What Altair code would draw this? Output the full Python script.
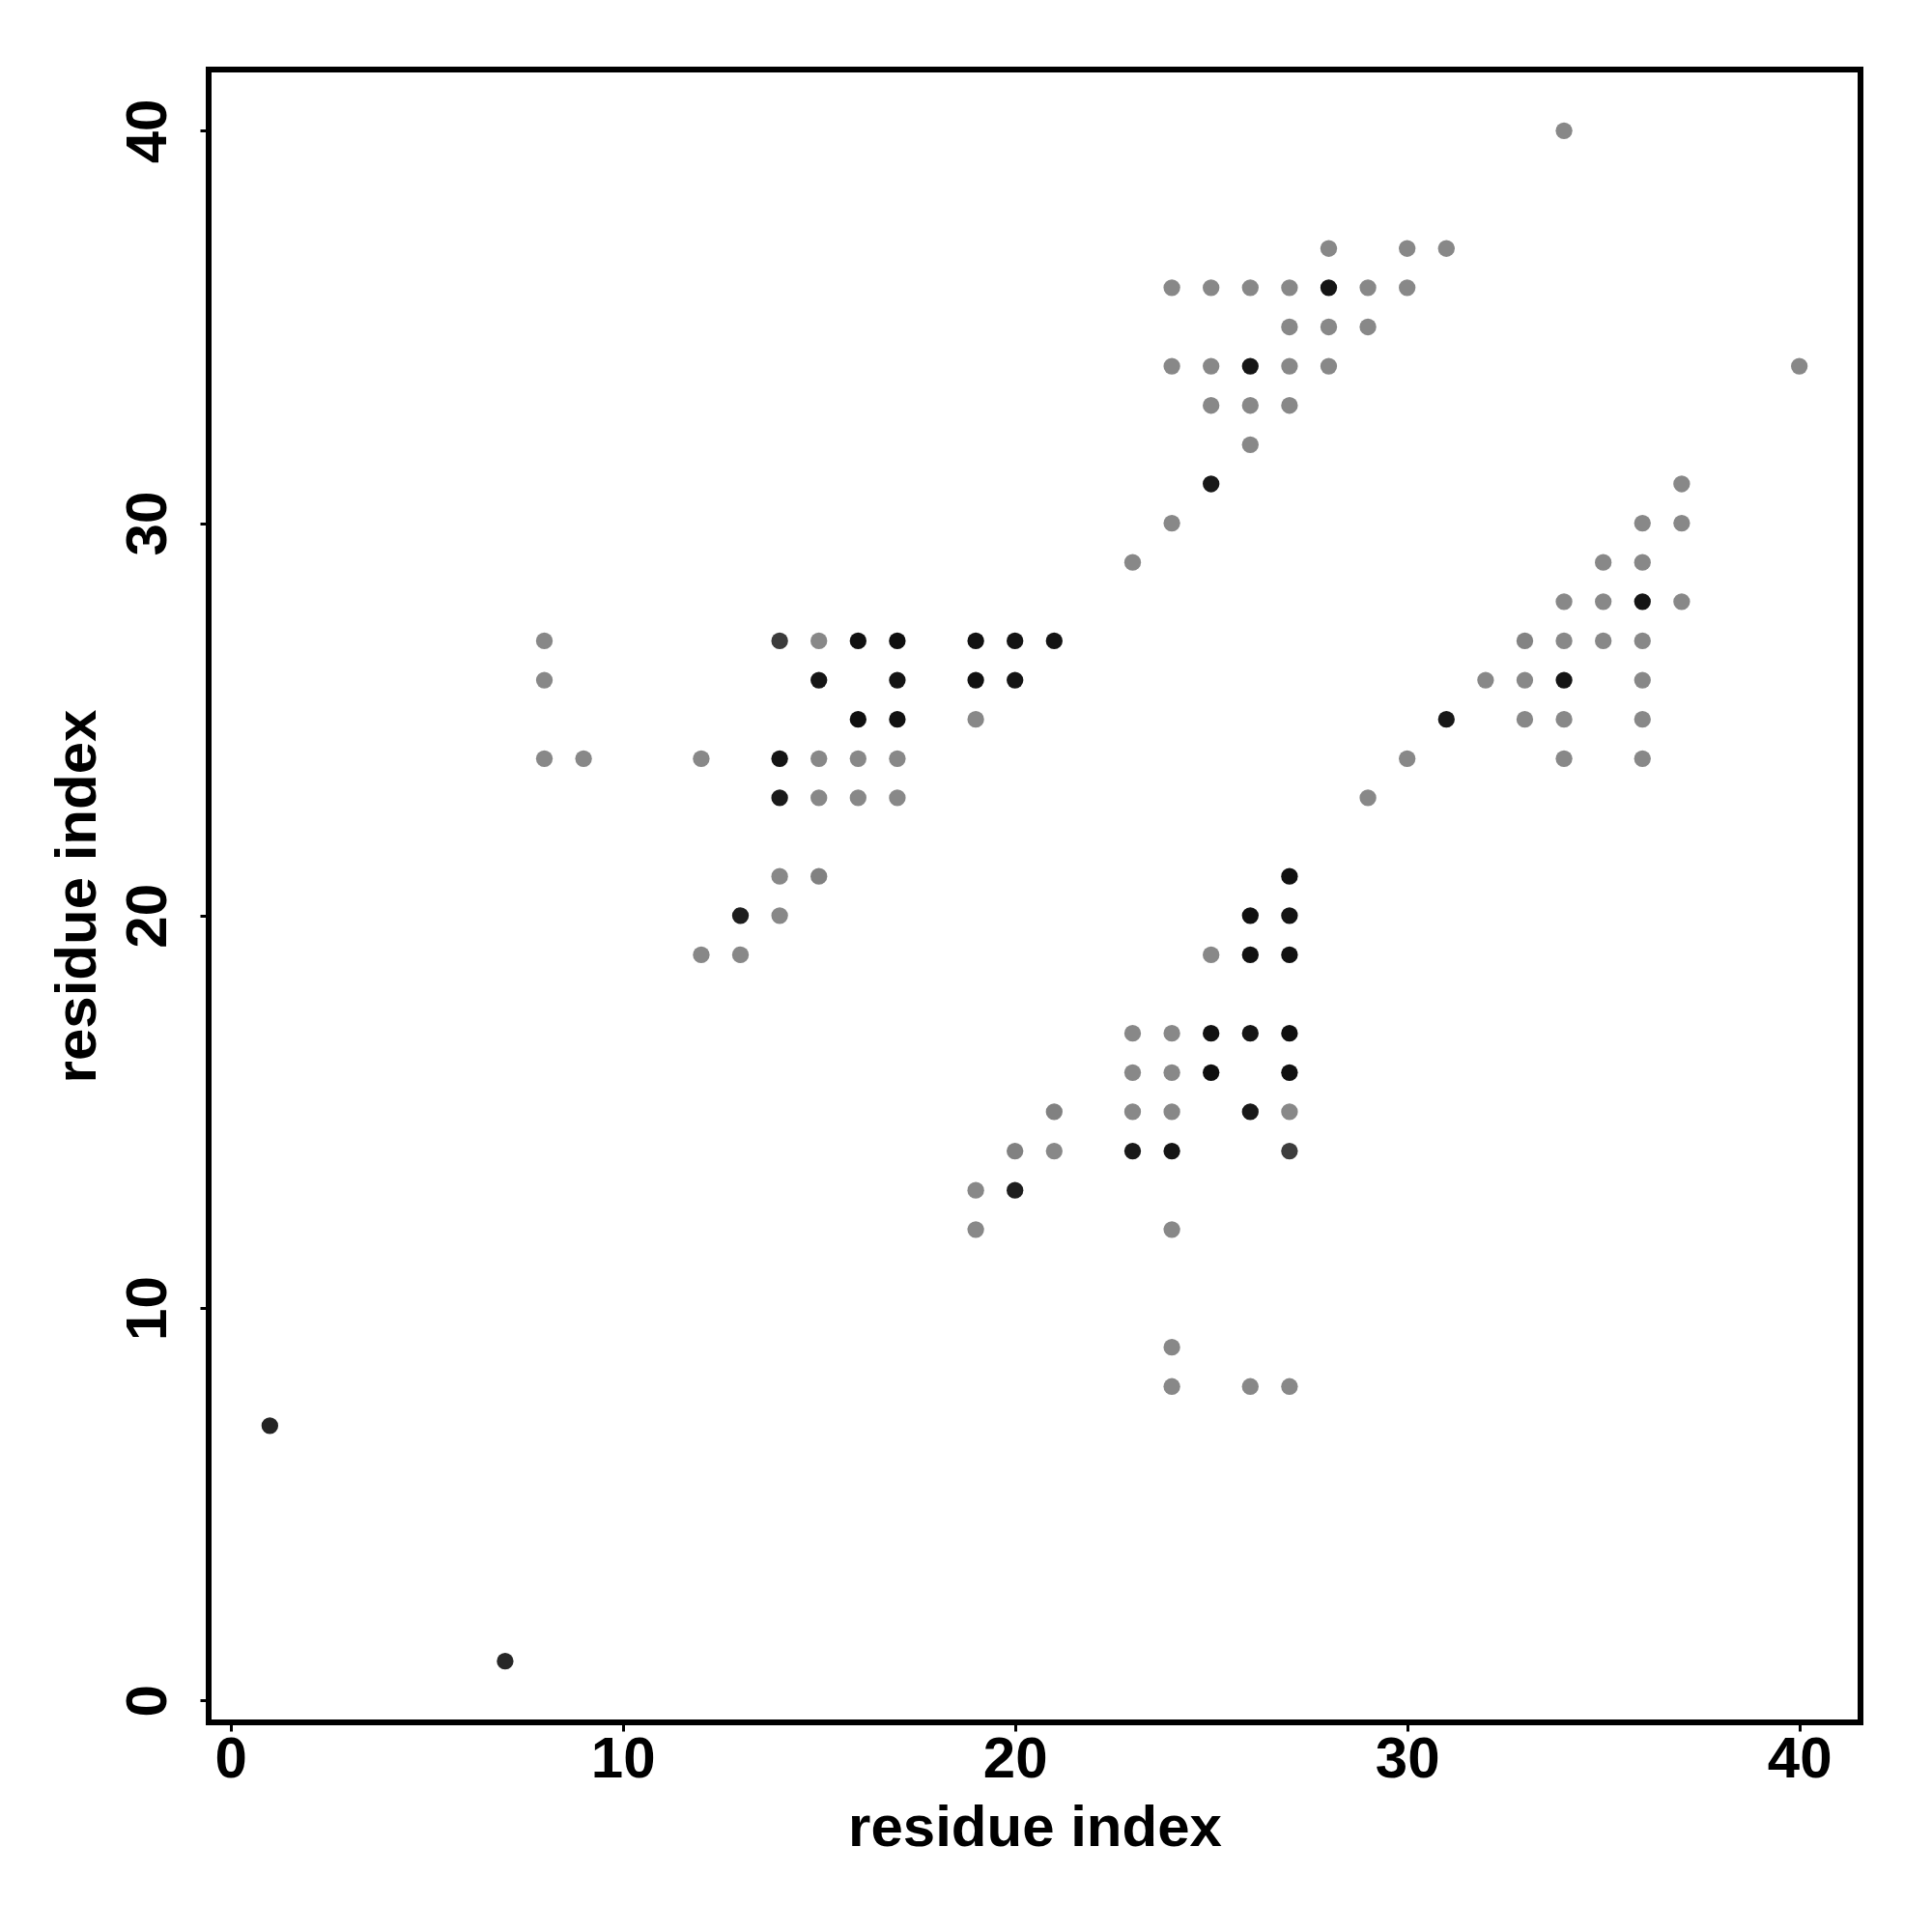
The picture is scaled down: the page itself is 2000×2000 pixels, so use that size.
import altair as alt
import pandas as pd

# residue i (x), residue j (y), contact strength (0 = grey, 1 = black)
res_i = [1, 7,
         8, 8, 8, 9,
         12, 12,
         13, 13,
         14, 14, 14, 14, 14,
         15, 15, 15, 15, 15,
         16, 16, 16, 16,
         17, 17, 17, 17, 17,
         19, 19, 19,
         20, 20,
         21,
         19, 19,
         20, 20,
         21, 21,
         23, 23, 23, 23, 23,
         24, 24, 24, 24, 24, 24, 24, 24, 24, 24,
         25, 25, 25, 25, 25, 25, 25,
         26, 26, 26, 26, 26, 26, 26, 26, 26,
         27, 27, 27, 27, 27, 27, 27, 27, 27, 27, 27, 27,
         28, 28, 28, 28,
         29, 29, 29,
         30, 30, 30,
         31, 31,
         32,
         33, 33, 33,
         34, 34, 34, 34, 34, 34,
         35, 35, 35,
         36, 36, 36, 36, 36, 36, 36,
         37, 37, 37,
         40]
res_j = [7, 1,
         27, 26, 24, 24,
         24, 19,
         20, 19,
         27, 24, 23, 21, 20,
         27, 26, 24, 23, 21,
         27, 25, 24, 23,
         27, 26, 25, 24, 23,
         27, 26, 25,
         27, 26,
         27,
         13, 12,
         14, 13,
         15, 14,
         17, 16, 15, 14, 29,
         17, 16, 15, 14, 12, 9, 8, 30, 34, 36,
         19, 17, 16, 31, 33, 34, 36,
         20, 19, 17, 15, 8, 32, 33, 34, 36,
         21, 20, 19, 17, 16, 15, 14, 8, 33, 34, 35, 36,
         34, 35, 36, 37,
         23, 35, 36,
         24, 36, 37,
         25, 37,
         26,
         27, 26, 25,
         40, 28, 27, 26, 25, 24,
         29, 28, 27,
         30, 29, 28, 27, 26, 25, 24,
         31, 30, 28,
         34]
strength = [0.80, 0.78,
            0, 0, 0, 0,
            0, 0,
            0.85, 0,
            0.62, 0.93, 0.88, 0, 0,
            0, 0.92, 0, 0, 0.06,
            0.95, 0.97, 0, 0,
            0.97, 0.93, 0.95, 0, 0,
            0.95, 0.95, 0,
            0.93, 0.93,
            0.93,
            0, 0,
            0.06, 0.85,
            0.06, 0,
            0, 0, 0, 0.88, 0,
            0, 0, 0, 0.92, 0, 0, 0, 0, 0, 0,
            0, 0.95, 0.98, 0.90, 0, 0, 0,
            0.95, 0.95, 0.93, 0.90, 0, 0, 0, 0.92, 0,
            0.95, 0.93, 0.95, 0.97, 0.96, 0, 0.60, 0, 0, 0, 0, 0,
            0, 0, 0.92, 0,
            0, 0, 0,
            0, 0, 0,
            0.90, 0,
            0,
            0.04, 0, 0,
            0, 0, 0, 0.92, 0, 0,
            0, 0, 0,
            0, 0, 0.92, 0, 0, 0, 0,
            0, 0, 0,
            0]

tick_values = [0, 10, 20, 30, 40]

df = pd.DataFrame({"i": res_i, "j": res_j, "s": strength})

FONT = "Liberation Sans"
W, H = 1710, 1711

x_axis = alt.Axis(
    title="residue index", values=tick_values, grid=False, domain=False,
    ticks=True, tickSize=9, tickWidth=3, tickColor="black",
    labelFont=FONT, labelFontSize=60, labelFontWeight="bold", labelColor="black",
    labelPadding=0, labelFlush=False, labelOverlap=False,
    titleFont=FONT, titleFontSize=60, titleFontWeight="bold", titleColor="black",
    titleX=W / 2, titleY=127, titleBaseline="alphabetic", titleAlign="center",
)
y_axis = alt.Axis(
    title="residue index", values=tick_values, grid=False, domain=False,
    ticks=True, tickSize=9, tickWidth=3, tickColor="black",
    labelFont=FONT, labelFontSize=60, labelFontWeight="bold", labelColor="black",
    labelAngle=270, labelAlign="center", labelBaseline="alphabetic",
    labelPadding=36, labelFlush=False, labelOverlap=False,
    titleFont=FONT, titleFontSize=60, titleFontWeight="bold", titleColor="black",
    titleAngle=270, titleX=-118, titleY=H / 2, titleBaseline="alphabetic",
    titleAlign="center",
)

chart = alt.Chart(df).mark_circle(size=300, opacity=1).encode(
    x=alt.X("i:Q", scale=alt.Scale(domain=[-0.56, 41.56], nice=False, zero=False), axis=x_axis),
    y=alt.Y("j:Q", scale=alt.Scale(domain=[-0.56, 41.56], nice=False, zero=False), axis=y_axis),
    color=alt.Color("s:Q", scale=alt.Scale(domain=[0, 1], range=["#888888", "#0b0b0b"],
                                           interpolate="rgb"), legend=None),
).properties(
    width=W, height=H,
    background="white",
    autosize=alt.AutoSizeParams(type="none"),
    padding={"left": 208, "top": 64, "right": 60, "bottom": 200},
).configure_view(
    stroke="black", strokeWidth=6, strokeOpacity=1
)

chart.save("out.html", embed_options={"renderer": "svg", "actions": False})
